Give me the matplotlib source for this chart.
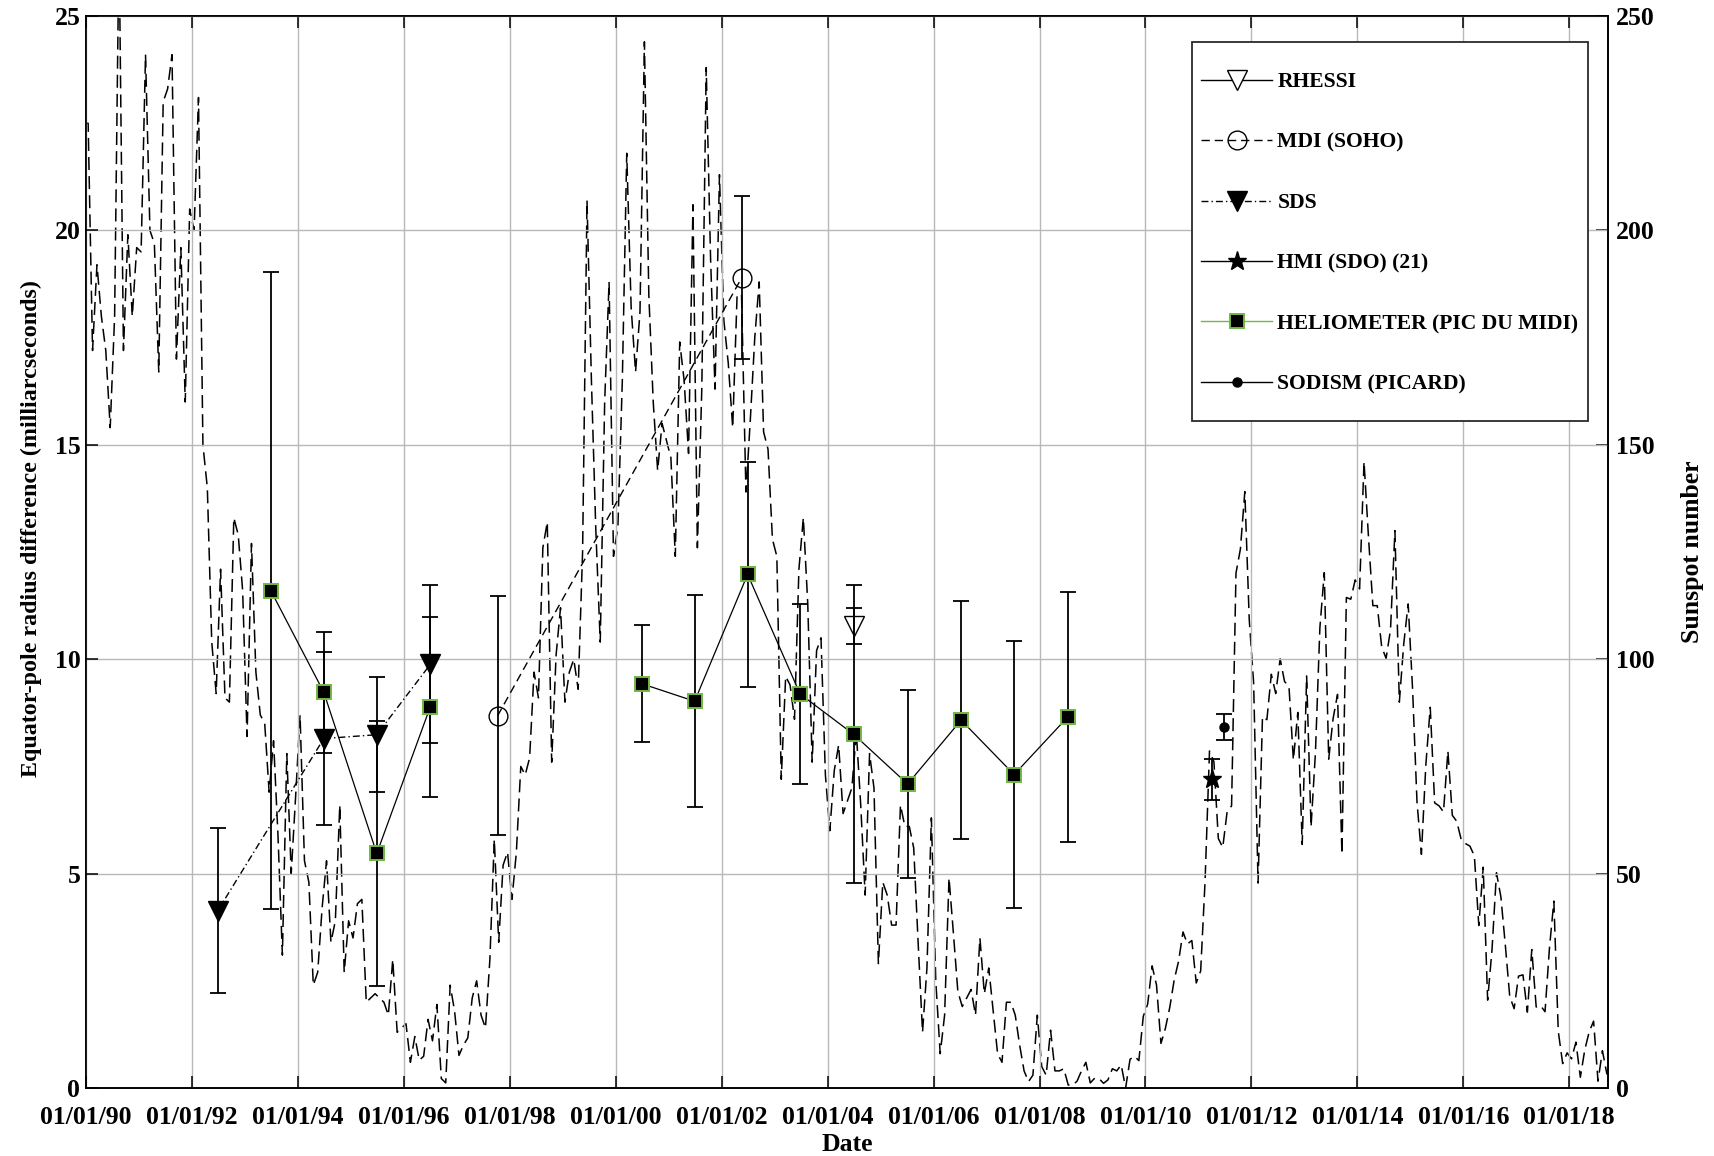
import numpy as np
import matplotlib
matplotlib.use("Agg")
import matplotlib.pyplot as plt
from matplotlib.lines import Line2D
from matplotlib.patches import Rectangle

plt.rcParams["font.family"] = "Liberation Serif"
plt.rcParams["font.weight"] = "bold"
plt.rcParams["axes.labelweight"] = "bold"

# monthly mean sunspot number, Dec 1989 .. Oct 2018
sunspot = [
    225,
    225, 172, 192, 180, 172, 154, 180, 268, 172, 199, 180, 196,   # 1990
    195, 241, 200, 197, 167, 230, 233, 241, 170, 196, 160, 205,   # 1991
    200, 231, 150, 140, 104, 92, 121, 91, 90, 133, 129, 116,      # 1992
    82, 127, 97, 87, 85, 69, 81, 59, 31, 78, 50, 68,              # 1993
    87, 53, 48, 24, 27, 42, 53, 34, 39, 66, 27, 39,               # 1994
    35, 43, 44, 20, 21, 22, 21, 20, 17, 30, 13, 14,               # 1995
    15, 6, 12, 6.5, 7.4, 16, 11, 19.5, 2.2, 1.2, 24, 18,          # 1996
    7.6, 10, 11.7, 21, 25, 17, 14, 30, 58, 34, 52, 55,            # 1997
    44, 55, 75, 73, 77, 97, 91, 126, 132, 76, 101, 112,           # 1998
    90, 97, 100, 93, 125, 207, 165, 130, 104, 160, 188, 124,      # 1999
    131, 165, 218, 182, 167, 181, 244, 185, 160, 144, 155, 151,   # 2000
    147, 124, 174, 165, 148, 206, 126, 163, 238, 193, 163, 213,   # 2001
    179, 169, 154, 185, 185, 139, 156, 175, 188, 153, 149, 128,   # 2002
    124, 72, 96, 94, 86, 121, 133, 113, 76, 102, 105, 73,         # 2003
    60, 74, 80, 64, 67, 70, 83, 66, 45, 78, 70, 29,               # 2004
    48, 45, 38, 38, 66, 61, 61, 56, 34, 13, 28, 63,               # 2005
    25, 8, 17, 49, 36, 22.5, 19, 21, 23, 17, 35, 22,              # 2006
    28, 18, 8, 6, 20, 20, 17, 10, 4, 1.5, 3, 17,                  # 2007
    5, 3, 13.5, 4, 4, 4.5, 0.7, 0.7, 1.6, 4, 6, 1.2,              # 2008
    2.3, 2.2, 1.1, 1.9, 4.5, 4, 5.4, 0, 6.7, 7.4, 6.4, 16.7,      # 2009
    19.6, 28.5, 24.0, 10.4, 13.9, 18.8, 25.2, 29.6, 36.4, 33.6, 34.4, 24.5,        # 2010
    27.3, 48.3, 78.6, 76.1, 58.2, 56.1, 64.5, 65.8, 120.1, 125.7, 139.1, 109.3,    # 2011
    94.4, 47.8, 86.6, 85.9, 96.5, 92.0, 100.1, 94.8, 93.7, 76.5, 87.6, 56.8,       # 2012
    96.1, 60.9, 78.3, 107.3, 120.2, 76.7, 86.2, 91.8, 54.5, 114.4, 114.0, 118.5,   # 2013
    116.4, 146.1, 128.7, 112.5, 112.5, 102.9, 100.2, 106.9, 130.0, 90.0, 103.6, 112.9,  # 2014
    93.0, 66.7, 54.5, 75.3, 88.8, 66.5, 65.8, 64.4, 78.6, 63.6, 62.2, 58.0,        # 2015
    57.0, 56.4, 54.1, 37.9, 51.5, 20.5, 32.4, 50.2, 44.6, 33.4, 21.4, 18.5,        # 2016
    26.1, 26.4, 17.7, 32.3, 18.9, 19.2, 17.8, 32.6, 43.6, 13.2, 5.7, 8.2,          # 2017
    6.8, 10.7, 2.5, 8.9, 13.1, 15.6, 1.6, 8.7, 3.3, 4.9,                           # 2018
]

# equator-pole radius difference (mas) by instrument, time in decimal years
rhessi_t = [2004.49]
rhessi_v = [10.78]
rhessi_e = [0.42]

mdi_t = [1997.77, 2002.38]
mdi_v = [8.68, 18.9]
mdi_e = [2.79, 1.9]

sds_t = [1992.49, 1994.49, 1995.49, 1996.5]
sds_v = [4.14, 8.15, 8.24, 9.88]
sds_e = [1.93, 2.02, 1.34, 1.84]

hmi_t = [2011.26]
hmi_v = [7.2]
hmi_e = [0.48]

helio_t1 = [1993.49, 1994.49, 1995.49, 1996.5]
helio_v1 = [11.6, 9.23, 5.47, 8.89]
helio_e1 = [7.43, 1.41, 3.1, 2.1]
helio_t2 = [2000.49, 2001.49, 2002.49, 2003.48, 2004.49, 2005.51, 2006.52, 2007.52, 2008.53]
helio_v2 = [9.43, 9.02, 11.98, 9.19, 8.25, 7.09, 8.58, 7.31, 8.65]
helio_e2 = [1.36, 2.47, 2.63, 2.1, 3.48, 2.2, 2.78, 3.12, 2.92]

sodism_t = [2011.49]
sodism_v = [8.42]
sodism_e = [0.3]

years = list(range(1990, 2019, 2))
green = "#72b843"
mdi_dash = (6, 3.5)
sds_dash = (5, 2.2, 1, 2.2)

fig = plt.figure(figsize=(17.15, 11.56), dpi=100)
ax = fig.add_axes([0.0501, 0.0588, 0.8875, 0.9273])
ax2 = ax.twinx()
ax.set_zorder(ax2.get_zorder() + 1)
ax.patch.set_visible(False)

# sunspot number on the right axis, mid-month positions
t_ss = 1989 + (11 + np.arange(len(sunspot)) + 0.5) / 12
ax2.plot(t_ss, sunspot, color="k", lw=1.1, dashes=(8.5, 4))

ebar = dict(fmt="none", ecolor="k", elinewidth=1.3, capsize=6, capthick=1.3, zorder=3)
for t, v, e in [(rhessi_t, rhessi_v, rhessi_e), (mdi_t, mdi_v, mdi_e),
                (sds_t, sds_v, sds_e), (hmi_t, hmi_v, hmi_e),
                (helio_t1, helio_v1, helio_e1), (helio_t2, helio_v2, helio_e2),
                (sodism_t, sodism_v, sodism_e)]:
    ax.errorbar(t, v, yerr=e, **ebar)

ax.plot(mdi_t, mdi_v, color="k", lw=1.0, dashes=mdi_dash, marker="o", ms=13.5,
        mfc="none", mec="k", mew=1.0, zorder=4)
ax.plot(sds_t, sds_v, color="k", lw=1.0, dashes=sds_dash, marker="v", ms=15,
        mfc="k", mec="k", zorder=4)
for t, v in [(helio_t1, helio_v1), (helio_t2, helio_v2)]:
    ax.plot(t, v, color="k", lw=0.9, marker="s", ms=10.5, mfc="k",
            mec=green, mew=1.4, zorder=5)
ax.plot(rhessi_t, rhessi_v, ls="none", marker="v", ms=15, mfc="none",
        mec="k", mew=1.0, zorder=5)
ax.plot(hmi_t, hmi_v, ls="none", marker="*", ms=14, mfc="k", mec="k", zorder=5)
ax.plot(sodism_t, sodism_v, ls="none", marker="o", ms=6.5, mfc="k", mec="k", zorder=5)

ax.set_xlim(1990, 2018.73)
ax.set_ylim(0, 25)
ax2.set_ylim(0, 250)
ax.set_xticks(years)
ax.set_xticklabels([f"01/01/{y % 100:02d}" for y in years])
ax.set_yticks(range(0, 26, 5))
ax2.set_yticks(range(0, 251, 50))
ax.grid(True, color="#b8b8b8", lw=1.0)

ax.tick_params(direction="in", length=8.5, width=1.1, top=True, right=False,
               labelsize=18.5)
ax.tick_params(axis="x", pad=13)
ax.tick_params(axis="y", pad=4)
ax2.tick_params(direction="in", length=8.5, width=1.1, labelsize=18.5, pad=6)
for a in (ax, ax2):
    for s in a.spines.values():
        s.set_linewidth(1.2)

ax.set_xlabel("Date", fontsize=18.5)
ax.xaxis.set_label_coords(0.5, -0.0415)
ax.set_ylabel("Equator-pole radius difference (milliarcseconds)", fontsize=17.3)
ax.yaxis.set_label_coords(-0.029, 0.522)
ax2.set_ylabel("Sunspot number", fontsize=18.5)
ax2.yaxis.set_label_coords(1.048, 0.5)

# legend with a separate square frame
handles = [
    Line2D([], [], color="k", lw=1.0, marker="v", ms=15, mfc="white", mec="k"),
    Line2D([], [], color="k", lw=1.0, dashes=mdi_dash, marker="o", ms=13.5, mfc="none", mec="k"),
    Line2D([], [], color="k", lw=1.0, dashes=sds_dash, marker="v", ms=15, mfc="k", mec="k"),
    Line2D([], [], color="k", lw=1.0, marker="*", ms=14, mfc="k", mec="k"),
    Line2D([], [], color=green, lw=1.0, marker="s", ms=10.5, mfc="k", mec=green, mew=1.4),
    Line2D([], [], color="k", lw=1.0, marker="o", ms=6.5, mfc="k", mec="k"),
]
labels = ["RHESSI", "MDI (SOHO)", "SDS", "HMI (SDO) (21)",
          "HELIOMETER (PIC DU MIDI)", "SODISM (PICARD)"]
ax.add_patch(Rectangle((0.7267, 0.6222), 0.2602, 0.3535, transform=ax.transAxes,
                       facecolor="white", edgecolor="#2a2a2a", lw=1.3, zorder=6))
leg = ax.legend(handles, labels, loc="upper left", bbox_to_anchor=(0.7326, 0.9478),
                frameon=False, borderpad=0, borderaxespad=0, handlelength=3.28,
                handletextpad=0.25, labelspacing=1.86,
                prop={"family": "Liberation Serif", "weight": "bold", "size": 15.6})
leg.set_zorder(7)

fig.savefig("out.png", dpi=100)
